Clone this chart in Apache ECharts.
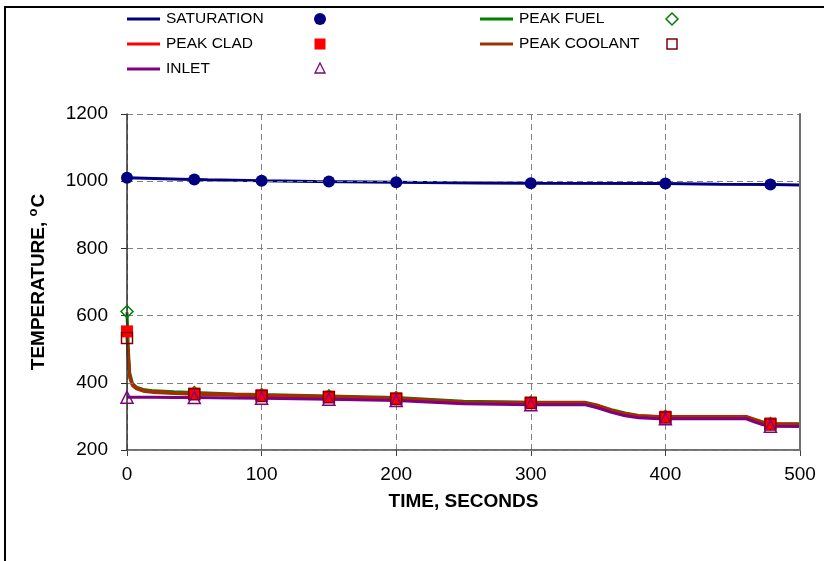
<!DOCTYPE html>
<html>
<head>
<meta charset="utf-8">
<script src="https://cdn.jsdelivr.net/npm/echarts@6/dist/echarts.min.js"></script>
<style>html,body{margin:0;padding:0;background:#fff;}#c{width:824px;height:561px;}</style>
</head>
<body>
<div id="c"></div>
<script>
// ---- data ----
const xTicks = [0, 100, 200, 300, 400, 500];
const yTicks = [200, 400, 600, 800, 1000, 1200];

const timeSat = [0, 20, 40, 60, 100, 140, 200, 260, 300, 400, 440, 480, 500];
const saturation = [1010, 1008, 1006, 1004, 1001, 999, 997, 995, 994, 993, 991, 990, 989];

const timeCore = [0, 1, 2, 4, 7, 12, 20, 35, 50, 80, 100, 150, 200, 250, 300, 340, 350, 360, 370, 380, 395, 460, 466, 472, 478, 500];
const peakFuel = [610, 500, 430, 398, 387, 380, 376, 373, 371, 367, 365, 361, 356, 345, 342, 342, 333, 320, 310, 303, 300, 300, 292, 284, 279, 278];
const peakClad = [555, 480, 420, 395, 384, 377, 373, 370, 368, 365, 363, 359, 354, 343, 341, 341, 332, 318, 308, 302, 299, 299, 291, 283, 278, 277];
const peakCoolant = [535, 470, 415, 392, 382, 375, 371, 368, 366, 363, 361, 357, 352, 342, 340, 340, 330, 316, 306, 300, 297, 297, 289, 281, 276, 275];
const inlet = [357, 357, 357, 357, 357, 357, 357, 356, 356, 355, 354, 351, 347, 338, 335, 335, 325, 312, 302, 296, 293, 293, 284, 276, 271, 270];

const markTime = [0, 50, 100, 150, 200, 300, 400, 478];
const satMarks = [1010, 1005, 1001, 999, 997, 994, 993, 990];
const fuelMarks = [612, 371, 365, 361, 356, 342, 300, 279];
const cladMarks = [553, 368, 363, 359, 354, 341, 299, 279];
const coolantMarks = [533, 366, 361, 357, 352, 340, 297, 276];
const inletMarks = [357, 356, 354, 351, 347, 335, 293, 271];

const pairs = (xs, ys) => xs.map((x, i) => [x, ys[i]]);

const C = {
  sat: '#000080', fuel: '#008000', clad: '#FF0000',
  coolant: '#993300', coolantMark: '#800000', inlet: '#800080'
};
const FONT = '"Liberation Sans", Arial, sans-serif';

const chart = echarts.init(document.getElementById('c'), null, {renderer: 'canvas'});

function lineSeries(name, xs, ys, color, z) {
  return {
    name: name, type: 'line', data: pairs(xs, ys), showSymbol: false, symbol: 'none',
    lineStyle: {color: color, width: 3}, itemStyle: {color: color}, z: z, animation: false
  };
}
function markSeries(name, xs, ys, symbol, size, fill, border, bw, z) {
  return {
    name: name, type: 'scatter', data: pairs(xs, ys), symbol: symbol, symbolSize: size,
    itemStyle: {color: fill, borderColor: border, borderWidth: bw, opacity: 1}, z: z, animation: false,
    emphasis: {disabled: true}
  };
}

const legendText = {fontFamily: FONT, fontSize: 15.5, color: '#000', lineHeight: 25, padding: [0, 0, 0, 1]};

const option = {
  animation: false,
  backgroundColor: '#fff',
  grid: {left: 127, top: 114, right: 24, bottom: 111, containLabel: false},
  legend: [
    {left: 122, top: 1.5, orient: 'vertical', itemGap: 0, itemWidth: 33, itemHeight: 3, icon: 'rect',
     data: ['SATURATION', 'PEAK CLAD', 'INLET'], textStyle: legendText, selectedMode: false},
    {left: 475, top: 1.5, orient: 'vertical', itemGap: 0, itemWidth: 33, itemHeight: 3, icon: 'rect',
     data: ['PEAK FUEL', 'PEAK COOLANT'], textStyle: legendText, selectedMode: false}
  ],
  xAxis: {
    type: 'value', min: 0, max: 500, interval: 100,
    name: 'TIME, SECONDS', nameLocation: 'middle', nameGap: 42,
    nameTextStyle: {fontFamily: FONT, fontSize: 19, fontWeight: 'bold', color: '#000'},
    axisLine: {show: true, onZero: false, lineStyle: {color: '#404040', width: 1.5}},
    axisTick: {show: true, length: 6, lineStyle: {color: '#404040'}},
    axisLabel: {fontFamily: FONT, fontSize: 19, color: '#000', margin: 15, formatter: v => String(v)},
    splitLine: {show: true, lineStyle: {color: '#808080', type: [6, 4], width: 1}}
  },
  yAxis: [{
    type: 'value', min: 200, max: 1200, interval: 200,
    name: 'TEMPERATURE, {sup|o}C', nameLocation: 'middle', nameGap: 77, nameRotate: 90,
    nameTextStyle: {fontFamily: FONT, fontSize: 19, fontWeight: 'bold', color: '#000',
      rich: {sup: {fontFamily: FONT, fontSize: 13, fontWeight: 'bold', color: '#000', padding: [0, 1, 10, 0]}}},
    axisLine: {show: true, onZero: false, lineStyle: {color: '#303030', width: 1.5}},
    axisTick: {show: true, length: 6, lineStyle: {color: '#303030'}},
    axisLabel: {fontFamily: FONT, fontSize: 19, color: '#000', margin: 19, formatter: v => String(v)},
    splitLine: {show: true, lineStyle: {color: '#808080', type: [6, 4], width: 1}},
    z: 3
  }, {
    // right-hand frame of the plot area
    type: 'value', min: 200, max: 1200, interval: 200, position: 'right', z: 4,
    axisLine: {show: true, onZero: false, lineStyle: {color: '#6e6e6e', width: 2, type: 'solid'}},
    axisTick: {show: false}, axisLabel: {show: false}, splitLine: {show: false}
  }],
  series: [
    lineSeries('SATURATION', timeSat, saturation, C.sat, 2),
    lineSeries('PEAK FUEL', timeCore, peakFuel, C.fuel, 2),
    lineSeries('PEAK CLAD', timeCore, peakClad, C.clad, 2),
    lineSeries('PEAK COOLANT', timeCore, peakCoolant, C.coolant, 2),
    lineSeries('INLET', timeCore, inlet, C.inlet, 2),
    markSeries('SATURATION pts', markTime, satMarks, 'circle', 12, C.sat, C.sat, 0, 3),
    markSeries('PEAK FUEL pts', markTime, fuelMarks, 'diamond', 12, 'rgba(0,0,0,0)', C.fuel, 1.5, 3),
    markSeries('PEAK CLAD pts', markTime, cladMarks, 'rect', 12, C.clad, C.clad, 0, 4),
    markSeries('PEAK COOLANT pts', markTime, coolantMarks, 'rect', 11, 'rgba(0,0,0,0)', C.coolantMark, 1.5, 5),
    markSeries('INLET pts', markTime, inletMarks, 'triangle', 12, 'rgba(0,0,0,0)', C.inlet, 1.5, 6)
  ],
  graphic: [
    {type: 'rect', shape: {x: 5, y: 7, width: 900, height: 700}, style: {fill: 'none', stroke: '#000', lineWidth: 2}, silent: true, z: 0},
    {type: 'circle', shape: {cx: 320, cy: 19, r: 6}, style: {fill: C.sat}, silent: true},
    {type: 'rect', shape: {x: 314.5, y: 38.5, width: 11, height: 11}, style: {fill: C.clad}, silent: true},
    {type: 'polygon', shape: {points: [[320, 63], [325, 73], [315, 73]]}, style: {fill: 'none', stroke: C.inlet, lineWidth: 1.3}, silent: true},
    {type: 'polygon', shape: {points: [[672, 13], [678, 19], [672, 25], [666, 19]]}, style: {fill: 'none', stroke: C.fuel, lineWidth: 1.5}, silent: true},
    {type: 'rect', shape: {x: 667, y: 39, width: 10, height: 10}, style: {fill: 'none', stroke: C.coolantMark, lineWidth: 1.5}, silent: true}
  ]
};
chart.setOption(option);
</script>
</body>
</html>
